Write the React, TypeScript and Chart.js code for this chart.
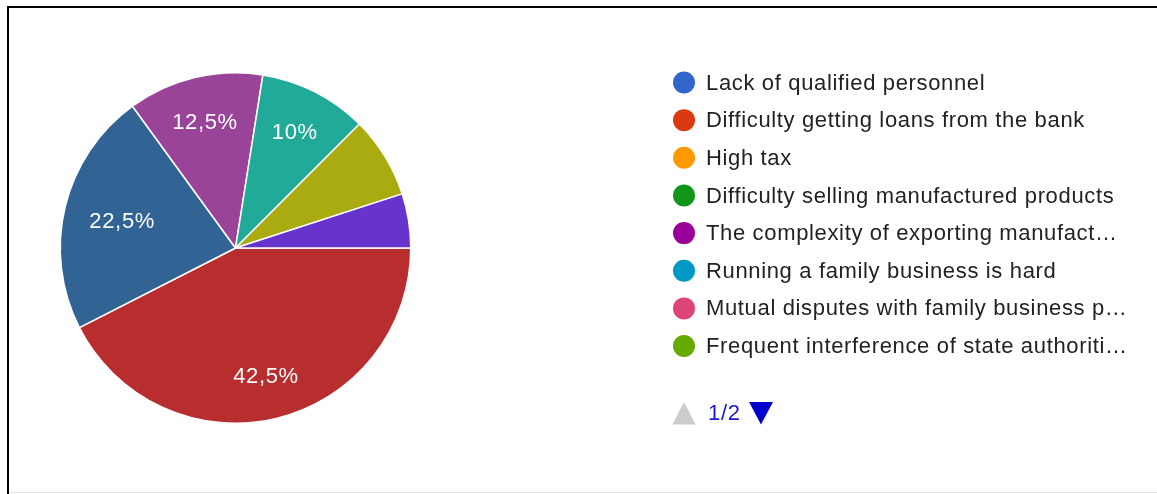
import React, { useEffect, useRef } from "react";
import { Chart, registerables } from "chart.js";

Chart.register(...registerables);

// Legend entries visible on page 1 of the legend (their values are 0)
const legendLabels = [
  "Lack of qualified personnel",
  "Difficulty getting loans from the bank",
  "High tax",
  "Difficulty selling manufactured products",
  "The complexity of exporting manufactured products",
  "Running a family business is hard",
  "Mutual disputes with family business partners",
  "Frequent interference of state authorities",
];
const legendColors = [
  "#3366cc",
  "#dc3912",
  "#ff9900",
  "#109618",
  "#990099",
  "#0099c6",
  "#dd4477",
  "#66aa00",
];
const legendPage = "1/2";

// Slices (categories on legend page 2; their names are not visible in the picture)
const sliceLabels = [
  "Response 9",
  "Response 10",
  "Response 11",
  "Response 12",
  "Response 13",
  "Response 14",
];
const sliceValues = [42.5, 22.5, 12.5, 10, 7.5, 5];
const sliceColors = ["#b82e2e", "#316395", "#994499", "#22aa99", "#aaaa11", "#6633cc"];
const labelThreshold = 0.1;

const FONT = '22px "Liberation Sans", Arial, sans-serif';
const SPACING = "0.65px";

const framePlugin = {
  id: "frame",
  beforeDraw(chart: any) {
    const ctx = chart.ctx;
    ctx.save();
    ctx.fillStyle = "#ffffff";
    ctx.fillRect(0, 0, chart.width, chart.height);
    ctx.fillStyle = "#000000";
    ctx.fillRect(7, 6, chart.width - 7, 2);
    ctx.fillRect(7, 6, 2, chart.height - 6);
    ctx.fillStyle = "#e3e3e3";
    ctx.fillRect(9, chart.height - 2, chart.width - 9, 1);
    ctx.restore();
  },
};

const sliceLabelPlugin = {
  id: "sliceLabels",
  afterDatasetsDraw(chart: any) {
    const ctx = chart.ctx;
    const meta = chart.getDatasetMeta(0);
    const values: number[] = chart.data.datasets[0].data;
    const total = values.reduce((a, b) => a + b, 0);
    ctx.save();
    ctx.font = FONT;
    (ctx as any).letterSpacing = SPACING;
    ctx.fillStyle = "#ffffff";
    ctx.textAlign = "center";
    ctx.textBaseline = "middle";
    meta.data.forEach((arc: any, i: number) => {
      const frac = values[i] / total;
      if (frac < labelThreshold) return;
      const { x, y, startAngle, endAngle, outerRadius } = arc.getProps(
        ["x", "y", "startAngle", "endAngle", "outerRadius"],
        true
      );
      const mid = (startAngle + endAngle) / 2;
      const pct = Math.round(frac * 1000) / 10;
      const text = String(pct).replace(".", ",") + "%";
      const w = ctx.measureText(text).width;
      const h = 16;
      let r = outerRadius * 0.745;
      const limit = outerRadius * 0.86;
      const maxCorner = (rr: number) => {
        const cx = Math.cos(mid) * rr;
        const cy = Math.sin(mid) * rr;
        let m = 0;
        for (const sx of [-1, 1])
          for (const sy of [-1, 1]) {
            const d = Math.hypot(cx + (sx * w) / 2, cy + (sy * h) / 2);
            if (d > m) m = d;
          }
        return m;
      };
      while (r > 0 && maxCorner(r) > limit) r -= 0.5;
      ctx.fillText(text, x + Math.cos(mid) * r, y + Math.sin(mid) * r + 1.5);
    });
    ctx.restore();
  },
};

const legendPlugin = {
  id: "customLegend",
  afterDraw(chart: any) {
    const ctx = chart.ctx;
    ctx.save();
    ctx.font = FONT;
    (ctx as any).letterSpacing = SPACING;
    ctx.textBaseline = "middle";
    ctx.textAlign = "left";
    const x0 = 684;
    const textX = 706;
    const fullFit = 420;
    const truncFit = 424;
    const y0 = 82.5;
    const step = 37.65;
    legendLabels.forEach((label, i) => {
      const y = y0 + i * step;
      ctx.fillStyle = legendColors[i];
      ctx.beginPath();
      ctx.arc(x0, y, 11, 0, Math.PI * 2);
      ctx.fill();
      let t = label;
      if (ctx.measureText(t).width > fullFit) {
        while (t.length > 0 && ctx.measureText(t + "…").width > truncFit) t = t.slice(0, -1);
        t = t + "…";
      }
      ctx.fillStyle = "#222222";
      ctx.fillText(t, textX, y + 1);
    });
    // pagination
    const py = 413;
    ctx.fillStyle = "#cccccc";
    ctx.beginPath();
    ctx.moveTo(672.5, 424.5);
    ctx.lineTo(695.5, 424.5);
    ctx.lineTo(684, 402);
    ctx.closePath();
    ctx.fill();
    ctx.fillStyle = "#1a1acc";
    ctx.fillText(legendPage, 708, py + 1);
    ctx.fillStyle = "#0000cc";
    ctx.beginPath();
    ctx.moveTo(749, 402);
    ctx.lineTo(773, 402);
    ctx.lineTo(761, 424.5);
    ctx.closePath();
    ctx.fill();
    ctx.restore();
  },
};

export default function App() {
  const ref = useRef<HTMLCanvasElement>(null);
  useEffect(() => {
    if (!ref.current) return;
    const chart = new Chart(ref.current, {
      type: "pie",
      data: {
        labels: sliceLabels,
        datasets: [
          {
            data: sliceValues,
            backgroundColor: sliceColors,
            borderColor: "#ffffff",
            borderWidth: 1.5,
          },
        ],
      },
      options: {
        responsive: false,
        animation: false,
        rotation: 90,
        layout: { padding: { left: 59, right: 745, top: 72, bottom: 70 } },
        plugins: {
          legend: { display: false },
          tooltip: { enabled: true },
        },
      },
      plugins: [framePlugin, sliceLabelPlugin, legendPlugin],
    });
    return () => chart.destroy();
  }, []);
  return (
    <div style={{ position: "absolute", left: 0, top: 0, width: 1157, height: 494, background: "#fff" }}>
      <canvas ref={ref} width={1157} height={494} style={{ display: "block", width: 1157, height: 494 }} />
    </div>
  );
}
